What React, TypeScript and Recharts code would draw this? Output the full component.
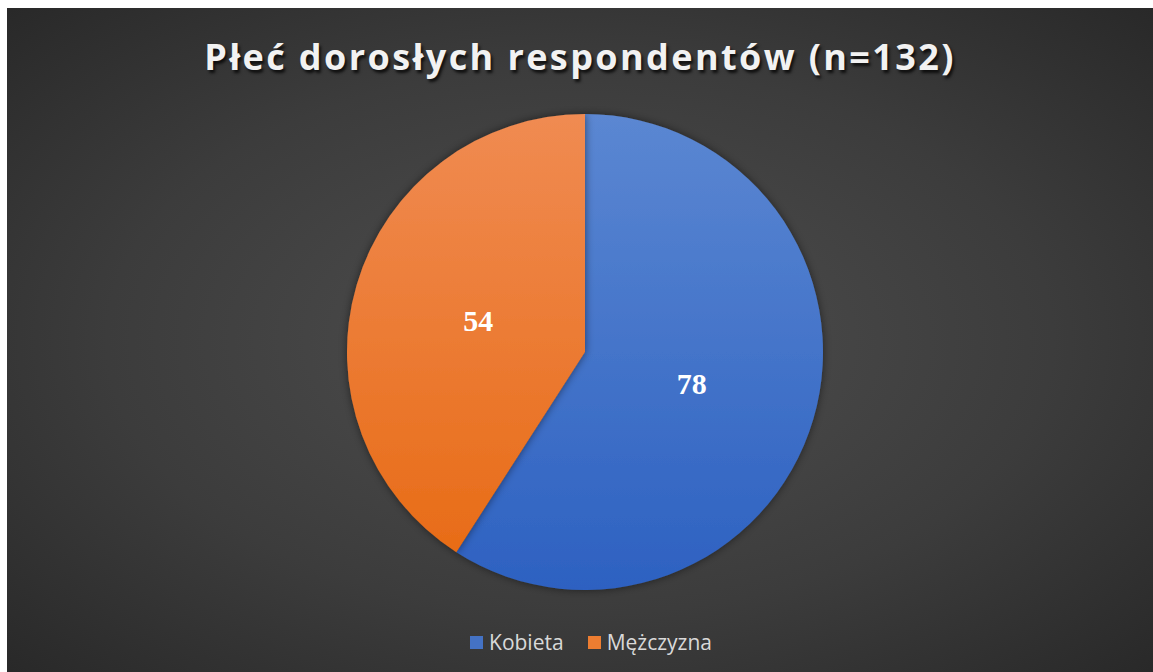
import React from "react";
import { PieChart, Pie, Cell, Legend } from "recharts";

const categories = ["Kobieta", "Mężczyzna"];
const values = [78, 54];
const title = "Płeć dorosłych respondentów (n=132)";

const data = categories.map((name, i) => ({ name, value: values[i] }));
const gradIds = ["gradBlue", "gradOrange"];
const legendColors = ["#4472C4", "#ED7D31"];

const RAD = Math.PI / 180;

const renderLabel = (props: any) => {
  const { cx, cy, midAngle, outerRadius, value } = props;
  const r = outerRadius * 0.467;
  const x = cx + r * Math.cos(-midAngle * RAD);
  const y = cy + r * Math.sin(-midAngle * RAD);
  return (
    <text
      x={x}
      y={y}
      fill="#ffffff"
      textAnchor="middle"
      dominantBaseline="central"
      style={{ fontFamily: "'Liberation Serif', 'Times New Roman', serif", fontWeight: 700, fontSize: 30 }}
    >
      {value}
    </text>
  );
};

const renderLegend = () => (
  <div style={{ display: "flex", justifyContent: "center", alignItems: "center", gap: 24, paddingLeft: 22 }}>
    {data.map((d, i) => (
      <div key={d.name} style={{ display: "flex", alignItems: "center" }}>
        <span style={{ display: "inline-block", width: 13, height: 13, background: legendColors[i], marginRight: 6 }} />
        <span style={{ color: "#d9d9d9", fontFamily: "'Open Sans', sans-serif", fontSize: 21, lineHeight: "26px" }}>{d.name}</span>
      </div>
    ))}
  </div>
);

export default function App() {
  return (
    <div style={{ position: "relative", width: 1153, height: 672, background: "#ffffff", overflow: "hidden" }}>
      <style>{`html,body{margin:0;padding:0;overflow:hidden;}`}</style>
      <div
        style={{
          position: "absolute",
          left: 7,
          top: 8,
          width: 1146,
          height: 664,
          background: "radial-gradient(ellipse 75% 75% at 50% 50%, #4f4f4f 0%, #3c3c3c 55%, #262626 100%)",
          overflow: "hidden",
        }}
      >
        <div
          style={{
            position: "absolute",
            top: 24,
            left: 0,
            width: 1146,
            textAlign: "center",
            color: "#f2f2f2",
            fontFamily: "'Open Sans', sans-serif",
            fontWeight: 700,
            fontSize: 36,
            letterSpacing: 2.4,
            textShadow: "2px 3px 3px rgba(0,0,0,0.75)",
            lineHeight: "50px",
          }}
        >
          {title}
        </div>
        <PieChart
          width={1146}
          height={664}
          margin={{ top: 0, right: 0, bottom: 0, left: 0 }}
          style={{ position: "absolute", top: 0, left: 0 }}
        >
          <defs>
            <linearGradient id="gradBlue" x1="0" y1="0" x2="0" y2="1">
              <stop offset="0%" stopColor="#5b87d2" />
              <stop offset="100%" stopColor="#2d61c1" />
            </linearGradient>
            <linearGradient id="gradOrange" x1="0" y1="0" x2="0" y2="1">
              <stop offset="0%" stopColor="#f08b52" />
              <stop offset="100%" stopColor="#e86c17" />
            </linearGradient>
            <filter id="pieShadow" x="-10%" y="-10%" width="120%" height="120%">
              <feDropShadow dx="0" dy="0" stdDeviation="4" floodColor="#000" floodOpacity="0.5" />
            </filter>
          </defs>
          <Pie
            data={data}
            dataKey="value"
            nameKey="name"
            cx={578}
            cy={344}
            outerRadius={238}
            startAngle={90}
            endAngle={-270}
            stroke="none"
            label={renderLabel}
            labelLine={false}
            isAnimationActive={false}
            style={{ filter: "url(#pieShadow)" }}
          >
            {data.map((d, i) => (
              <Cell key={d.name} fill={`url(#${gradIds[i]})`} />
            ))}
          </Pie>
          <Legend verticalAlign="bottom" align="center" content={renderLegend} wrapperStyle={{ bottom: 17 }} />
        </PieChart>
      </div>
    </div>
  );
}
